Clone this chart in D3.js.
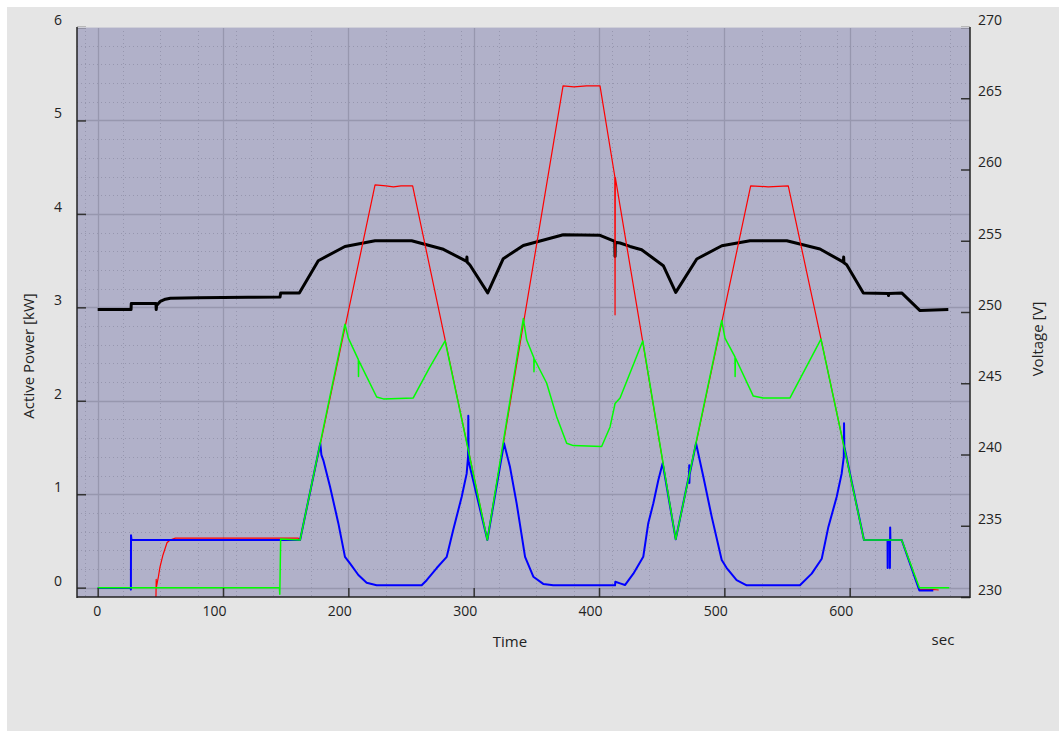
<!DOCTYPE html>
<html>
<head>
<meta charset="utf-8">
<script src="https://cdn.jsdelivr.net/npm/d3@7/dist/d3.min.js"></script>
<style>
  html, body { margin: 0; padding: 0; background: #ffffff; }
  svg { display: block; }
  text { font-family: "Open Sans", "DejaVu Sans", sans-serif; }
</style>
</head>
<body>
<svg id="chart" width="1059" height="731"></svg>
<script>
// ---------------- data (time in sec) ----------------
const timeTicks = [0, 100, 200, 300, 400, 500, 600];
const powerTicks = [0, 1, 2, 3, 4, 5, 6];
const voltageTicks = [230, 235, 240, 245, 250, 255, 260, 265, 270];

// Active power [kW] - red series
const redT = [46.5, 46.7, 46.8, 47.5, 48.5, 49.7, 52.1, 55.3, 57.7, 62, 160, 161.5, 221.3, 230, 236, 242, 251.3, 310.9, 371.3, 380, 390, 400.8, 412.6, 412.8, 413.0, 461.2, 521, 535, 551, 611.4, 641.5, 655.6, 667, 671];
const redV = [-0.1, 0.09, 0.0, 0.05, 0.12, 0.22, 0.35, 0.48, 0.51, 0.53, 0.53, 0.51, 4.31, 4.30, 4.29, 4.30, 4.30, 0.51, 5.37, 5.36, 5.37, 5.37, 4.40, 2.92, 4.39, 0.517, 4.30, 4.29, 4.30, 0.51, 0.51, -0.02, -0.02, -0.025];

// Active power [kW] - blue series
const blueT = [0, 26.3, 26.5, 26.6, 27, 161.5, 177.6, 178.5, 180, 185.4, 192, 197.3, 201.3, 208, 214.6, 222.6, 258.5, 262.5, 270.5, 278.5, 283.7, 290.4, 294.4, 295.5, 295.7, 296, 310.9, 324.2, 329, 334.3, 341, 347.6, 355.5, 363.5, 412.8, 413, 416.8, 420.7, 427.4, 435.3, 439.3, 443.3, 447.3, 450, 450.8, 461.2, 471.8, 472, 472.1, 472.3, 477.4, 483.2, 489.9, 497.9, 501.9, 509.8, 517.8, 560.3, 569.7, 577.7, 583, 589.6, 593.6, 595.3, 595.5, 595.7, 611.4, 630.2, 630.3, 630.4, 632.0, 632.1, 632.3, 632.5, 641.5, 655.6, 666.7];
const blueV = [-0.005, -0.005, -0.02, 0.56, 0.51, 0.51, 1.545, 1.42, 1.365, 1.08, 0.69, 0.33, 0.26, 0.135, 0.052, 0.025, 0.025, 0.08, 0.21, 0.33, 0.62, 0.97, 1.22, 1.40, 1.84, 1.35, 0.51, 1.545, 1.29, 0.90, 0.33, 0.117, 0.04, 0.025, 0.025, 0.063, 0.046, 0.028, 0.15, 0.33, 0.69, 0.90, 1.15, 1.29, 1.33, 0.517, 1.20, 1.31, 1.12, 1.21, 1.545, 1.19, 0.76, 0.295, 0.21, 0.08, 0.025, 0.025, 0.15, 0.31, 0.65, 0.97, 1.22, 1.40, 1.76, 1.51, 0.51, 0.51, 0.21, 0.51, 0.51, 0.21, 0.645, 0.51, 0.51, -0.03, -0.03];

// Active power [kW] - green series
const greenT = [0, 145, 145.3, 146, 161.5, 197.3, 200, 208, 208.1, 208.3, 222.6, 228, 251.8, 265, 277.2, 310.9, 339.6, 342.3, 348, 348.1, 348.3, 358.2, 366.2, 374.2, 379.5, 402.1, 408.8, 412.8, 416.8, 434.9, 461.2, 497.9, 500.5, 508.5, 508.6, 508.8, 523.1, 531, 552.4, 577.1, 611.4, 641.5, 655.6, 679.5];
const greenV = [0.0, 0.0, -0.07, 0.52, 0.51, 2.82, 2.67, 2.44, 2.26, 2.43, 2.04, 2.02, 2.03, 2.36, 2.64, 0.51, 2.88, 2.65, 2.46, 2.31, 2.45, 2.19, 1.83, 1.545, 1.52, 1.51, 1.72, 1.97, 2.03, 2.64, 0.517, 2.86, 2.67, 2.47, 2.26, 2.46, 2.05, 2.03, 2.03, 2.66, 0.51, 0.51, 0.0, 0.0];

// Voltage [V] - black series
const voltT = [0, 26.6, 26.8, 46.5, 46.7, 47, 50, 54, 58, 80, 120, 145.5, 146, 160.9, 176, 197.3, 221.3, 250.5, 275.8, 294.4, 294.6, 294.8, 297, 311.2, 323.6, 339.6, 371.5, 400.8, 412.6, 412.8, 413, 416.8, 424.7, 434, 451.3, 461.2, 478, 498, 520.5, 549.8, 576.3, 595, 595.2, 595.4, 597.6, 610.9, 630.8, 631, 631.2, 641.5, 656.1, 678.7];
const voltV = [250.17, 250.17, 250.59, 250.59, 250.17, 250.45, 250.75, 250.9, 250.97, 251.0, 251.03, 251.06, 251.34, 251.34, 253.6, 254.6, 255.0, 255.0, 254.4, 253.55, 253.86, 253.5, 253.3, 251.34, 253.74, 254.67, 255.42, 255.38, 254.95, 253.9, 254.9, 254.84, 254.6, 254.37, 253.25, 251.38, 253.72, 254.65, 255.0, 255.0, 254.42, 253.5, 253.86, 253.45, 253.32, 251.34, 251.3, 251.15, 251.3, 251.34, 250.1, 250.17];

// ---------------- layout ----------------
const svg = d3.select("#chart");
const L = 77, R = 970, T = 27, B = 597;

const x = d3.scaleLinear().domain([-16.5, 696]).range([L, R]);
const yP = d3.scaleLinear().domain([-0.1, 6]).range([B, T]);
const yV = d3.scaleLinear().domain([230, 270]).range([B, T]);

// panel background
svg.append("rect").attr("x", 7).attr("y", 7).attr("width", 1052).attr("height", 724).attr("fill", "#e5e5e5");
svg.append("rect").attr("x", L).attr("y", T).attr("width", R - L).attr("height", B - T).attr("fill", "#b1b1c9");

// grid
const g = svg.append("g");
const minorX = d3.range(-10, 696, 30).filter(v => v % 100 !== 0);
const minorY = d3.range(1, 30).map(i => i * 0.2).filter(v => Math.abs(v - Math.round(v)) > 1e-6);
g.selectAll(".mx").data(minorX).join("line")
  .attr("x1", d => Math.round(x(d)) + 0.5).attr("x2", d => Math.round(x(d)) + 0.5).attr("y1", T).attr("y2", B)
  .attr("stroke", "#9696ae").attr("stroke-width", 1).attr("stroke-dasharray", "1,3");
g.selectAll(".my").data(minorY).join("line")
  .attr("x1", L).attr("x2", R).attr("y1", d => Math.round(yP(d)) + 0.5).attr("y2", d => Math.round(yP(d)) + 0.5)
  .attr("stroke", "#9696ae").attr("stroke-width", 1).attr("stroke-dasharray", "1,3");
g.selectAll(".MX").data(timeTicks).join("line")
  .attr("x1", d => Math.round(x(d)) + 0.5).attr("x2", d => Math.round(x(d)) + 0.5).attr("y1", T).attr("y2", B)
  .attr("stroke", "#9797ae").attr("stroke-width", 1.3);
g.selectAll(".MY").data(powerTicks.filter(v => v > 0 && v < 6)).join("line")
  .attr("x1", L).attr("x2", R).attr("y1", d => Math.round(yP(d)) + 0.5).attr("y2", d => Math.round(yP(d)) + 0.5)
  .attr("stroke", "#9797ae").attr("stroke-width", 1.3);
g.append("line").attr("x1", L).attr("x2", R).attr("y1", Math.round(yP(0)) + 0.5).attr("y2", Math.round(yP(0)) + 0.5)
  .attr("stroke", "#9797ae").attr("stroke-width", 1.3);

// series
svg.append("clipPath").attr("id", "clip").append("rect")
  .attr("x", L).attr("y", T).attr("width", R - L).attr("height", B - T);
const plot = svg.append("g").attr("clip-path", "url(#clip)");

function series(ts, vs, yScale, color, width) {
  const pts = ts.map((t, i) => [t, vs[i]]);
  const line = d3.line().x(d => x(d[0])).y(d => yScale(d[1]));
  plot.append("path").datum(pts).attr("d", line)
    .attr("fill", "none").attr("stroke", color).attr("stroke-width", width)
    .attr("stroke-linejoin", "round");
}
series(voltT, voltV, yV, "#000000", 3);
series(redT, redV, yP, "#ff0000", 1.2);
series(blueT, blueV, yP, "#0000ff", 2);
series(greenT, greenV, yP, "#00ff00", 1.5);

// axes
const fontSize = "14px";
const titleSize = "15px";
const axL = svg.append("g").attr("transform", `translate(${L},0)`)
  .call(d3.axisLeft(yP).tickValues(powerTicks).tickSize(-9).tickPadding(15).tickFormat(d3.format("d")));
const axR = svg.append("g").attr("transform", `translate(${R},0)`)
  .call(d3.axisRight(yV).tickValues(voltageTicks).tickSize(-9).tickPadding(8).tickFormat(d3.format("d")));
const axB = svg.append("g").attr("transform", `translate(0,${B})`)
  .call(d3.axisBottom(x).tickValues(timeTicks).tickSize(-9).tickPadding(9).tickFormat(d3.format("d")));
[axL, axR, axB].forEach(a => {
  a.select(".domain").remove();
  a.selectAll(".tick line").attr("stroke", "#333").attr("stroke-width", 1.5);
  a.selectAll(".tick text").attr("font-size", fontSize).attr("fill", "#222")
    .attr("font-family", "'Open Sans', 'DejaVu Sans', sans-serif");
});
axL.selectAll(".tick text").attr("y", -7);
axR.selectAll(".tick text").attr("y", -7);
axB.selectAll(".tick text").attr("text-anchor", "end").attr("dx", 3);

// borders
svg.append("line").attr("x1", L).attr("x2", R).attr("y1", T + 0.5).attr("y2", T + 0.5).attr("stroke", "#cfcfd8").attr("stroke-width", 1);
svg.append("line").attr("x1", L).attr("x2", L).attr("y1", T).attr("y2", B + 1).attr("stroke", "#222").attr("stroke-width", 1.5);
svg.append("line").attr("x1", R).attr("x2", R).attr("y1", T).attr("y2", B + 1).attr("stroke", "#222").attr("stroke-width", 1.5);
svg.append("line").attr("x1", L).attr("x2", R).attr("y1", B).attr("y2", B).attr("stroke", "#222").attr("stroke-width", 1.5);

// titles
svg.append("text").attr("transform", "translate(28,356) rotate(-90)")
  .attr("text-anchor", "middle").attr("dominant-baseline", "central")
  .attr("font-size", titleSize).attr("fill", "#222").text("Active Power [kW]");
svg.append("text").attr("transform", "translate(1037,339) rotate(-90)")
  .attr("text-anchor", "middle").attr("dominant-baseline", "central")
  .attr("font-size", titleSize).attr("fill", "#222").text("Voltage [V]");
svg.append("text").attr("x", 510).attr("y", 641)
  .attr("text-anchor", "middle").attr("dominant-baseline", "central")
  .attr("font-size", titleSize).attr("fill", "#222").text("Time");
svg.append("text").attr("x", 943).attr("y", 639)
  .attr("text-anchor", "middle").attr("dominant-baseline", "central")
  .attr("font-size", titleSize).attr("fill", "#222").text("sec");
</script>
</body>
</html>
